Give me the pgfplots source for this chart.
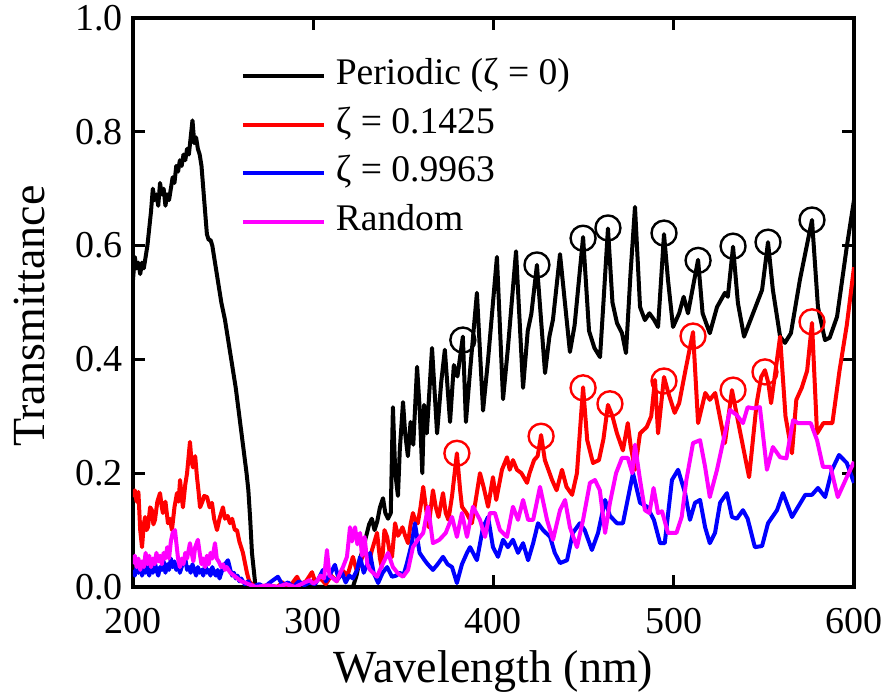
\documentclass[border=0pt]{standalone}
\usepackage{fontspec}
\setmainfont{Liberation Serif}
\usepackage{pgfplots}
\pgfplotsset{compat=1.18}
\definecolor{mag}{RGB}{255,0,255}
\definecolor{rd}{RGB}{255,0,0}
\definecolor{bl}{RGB}{0,0,255}
\begin{document}
\begin{tikzpicture}
\begin{axis}[
 name=ax,
 scale only axis, width=360.5pt, height=284.5pt,
 xmin=200, xmax=600, ymin=0, ymax=1,
 xtick={200,300,400,500,600},
 ytick={0,0.2,0.4,0.6,0.8,1.0},
 yticklabel style={xshift=-1.5pt, /pgf/number format/fixed, /pgf/number format/fixed zerofill, /pgf/number format/precision=1},
 /pgf/number format/assume math mode=true,
 tick align=inside, major tick length=6pt,
 tick style={line width=1.6pt, black},
 axis line style={line width=2pt},
 ticklabel style={font=\fontsize{19}{19}\selectfont},
 xticklabel style={yshift=-7pt},
 xlabel={Wavelength (nm)}, ylabel={Transmittance},
 label style={font=\fontsize{23}{23}\selectfont},
 xlabel style={at={(axis description cs:0.5,-0.1687)}, anchor=base},
 ylabel style={at={(axis description cs:-0.1221,0.476)}, anchor=base},
 legend style={draw=none, fill=none, at={(axis description cs:0.149,0.9359)}, anchor=north west,
   font=\fontsize{18.8}{18.8}\selectfont, inner sep=0pt, row sep=2.75pt, column sep=3pt,
   nodes={inner sep=2pt, text height=13pt, text depth=4.5pt}},
 legend cell align=left,
 legend image code/.code={\draw[#1] (0pt,0pt) -- (40.5pt,0pt);},
 every axis plot/.append style={line width=2pt, line join=round},
]
% Periodic
\addplot[black] coordinates {
(200,0.54)(201,0.58)(202,0.56)(203,0.57)(204,0.55)(205,0.57)(206,0.56)(207,0.58)(208,0.60)(209,0.63)
(210,0.66)(211,0.70)(212,0.68)(213,0.69)(214,0.67)(215,0.71)(216,0.69)(217,0.70)(218,0.67)(219,0.69)
(220,0.68)(221,0.70)(222,0.72)(223,0.71)(224,0.74)(225,0.73)(226,0.75)(227,0.74)(228,0.76)(229,0.75)
(230,0.77)(231,0.76)(232,0.79)(233,0.82)(234,0.78)(235,0.79)(236,0.77)(237,0.76)(238,0.74)(239,0.70)
(240,0.66)(241,0.62)(242,0.61)(243,0.61)(244,0.60)(245,0.58)(246,0.56)(247,0.54)(248,0.52)(249,0.50)
(251,0.47)(253,0.43)(255,0.39)(257,0.35)(259,0.30)(261,0.25)(263,0.20)(264,0.17)(265,0.12)(266,0.06)
(267,0.03)(268,0.00)(322,0.00)(324,0.02)(326,0.05)(328,0.07)(329,0.085)(331,0.11)(332.5,0.12)(334,0.10)
(335.5,0.115)(337,0.14)(338.7,0.156)(340,0.13)(341.5,0.12)(343,0.13)(344.2,0.316)(345.5,0.20)(347,0.16)
(348,0.24)(349.8,0.325)(351,0.27)(352.5,0.23)(354,0.29)(355.5,0.25)(357.6,0.387)(359,0.316)(360.5,0.20)
(361.5,0.32)(363,0.27)(365.9,0.42)(368.7,0.27)(371,0.36)(373,0.417)(375.9,0.29)(378,0.39)(380,0.37)
(383,0.44)(384.7,0.29)(387,0.38)(390.8,0.517)(394.2,0.31)(397,0.40)(401.9,0.58)(405.3,0.33)(408,0.42)
(412.5,0.59)(416.4,0.35)(419,0.45)(421,0.48)(424.1,0.566)(428.6,0.376)(431,0.44)(433,0.47)(436.9,0.585)
(442.4,0.413)(445,0.46)(449.7,0.615)(453,0.45)(456,0.42)(459.1,0.404)(461,0.50)(463.5,0.63)(466,0.50)
(468.5,0.464)(471.3,0.446)(473.5,0.411)(476,0.55)(478.5,0.668)(481.3,0.492)(484,0.469)(486.5,0.481)
(489,0.47)(491.3,0.457)(494.6,0.62)(496.8,0.54)(499.6,0.457)(503,0.481)(505.5,0.51)(507.9,0.481)
(513.5,0.575)(516,0.481)(520,0.446)(524,0.492)(528.4,0.517)(530,0.51)(532.9,0.598)(535.6,0.499)
(539,0.44)(544,0.481)(549,0.522)(552.3,0.606)(555,0.522)(559,0.44)(561.7,0.429)(565,0.446)(570,0.54)
(576.7,0.645)(580,0.492)(583.9,0.434)(586.5,0.438)(590.6,0.475)(596,0.598)(600,0.68)
};
\addlegendentry{Periodic (ζ = 0)}
% zeta = 0.1425
\addplot[rd] coordinates {
(200,0.158)(201,0.17)(202,0.15)(203,0.167)(204,0.10)(205,0.07)(206,0.11)(206.7,0.123)(207.5,0.10)
(208.3,0.105)(209.5,0.14)(210.5,0.135)(211.3,0.11)(212.2,0.118)(213.5,0.15)(215,0.165)(216,0.14)
(216.6,0.13)(218,0.15)(219.4,0.112)(220.5,0.12)(221.6,0.10)(223,0.14)(224.4,0.165)(225.3,0.15)
(226.1,0.188)(227,0.16)(227.7,0.14)(229,0.18)(230,0.20)(231.6,0.255)(232.5,0.22)(233.3,0.21)
(234.5,0.23)(235.5,0.193)(236.3,0.17)(237.2,0.14)(238.5,0.15)(239.5,0.16)(241.1,0.158)(242.5,0.14)
(243.8,0.148)(245,0.12)(246.6,0.10)(248,0.12)(249.9,0.14)(251,0.12)(252.5,0.125)(253.8,0.112)
(255,0.12)(256.5,0.10)(257.7,0.10)(259,0.08)(261,0.06)(263.2,0.025)(264.5,0.01)(266,0.005)(268,0.0)
(275,0.003)(280,0.0)(283,0.008)(285,0.0)(288,0.005)(291,0.018)(293,0.005)(296,0.01)(299.3,0.026)
(301,0.01)(304,0.015)(307,0.005)(310,0.02)(313,0.01)(316,0.03)(319,0.02)(322,0.053)(324,0.03)
(326,0.04)(328.7,0.07)(330.5,0.04)(332.6,0.065)(334,0.08)(335.4,0.095)(337,0.05)(338,0.035)
(339.5,0.10)(341,0.088)(342.5,0.06)(343.7,0.053)(345.4,0.112)(347,0.09)(348,0.095)(349.5,0.105)
(351,0.09)(352.6,0.077)(354,0.11)(355.3,0.13)(356.8,0.115)(358,0.112)(359.5,0.14)(361,0.176)
(362.5,0.14)(364,0.105)(366.4,0.17)(368,0.14)(369.5,0.123)(372,0.165)(373.5,0.13)(375,0.118)
(377,0.16)(379.7,0.235)(381.5,0.17)(382.5,0.141)(385,0.13)(388,0.112)(390,0.15)(392.5,0.20)
(394.5,0.176)(397,0.141)(399.7,0.193)(401.5,0.153)(404.7,0.206)(407.5,0.228)(409,0.206)(410.8,0.223)
(413,0.206)(415.5,0.20)(418.6,0.183)(420,0.20)(422.5,0.223)(424.5,0.23)(426.4,0.267)(428.5,0.223)
(432.5,0.188)(435,0.17)(438,0.206)(440.5,0.176)(443.6,0.162)(446.3,0.20)(449.7,0.351)(452,0.258)
(455.2,0.218)(458.5,0.223)(461,0.26)(463.5,0.32)(466,0.30)(468.5,0.27)(471.8,0.24)(474.5,0.288)
(476,0.25)(478.5,0.206)(481.3,0.27)(485,0.281)(487.5,0.30)(489.6,0.364)(491.3,0.27)(494.6,0.369)
(497,0.341)(500.5,0.306)(503,0.323)(506.5,0.381)(510.7,0.448)(513.5,0.288)(517.5,0.341)(520,0.329)
(523,0.341)(528.4,0.253)(532.3,0.346)(536.6,0.276)(541.8,0.193)(546,0.323)(548.5,0.369)(550.6,0.381)
(552.5,0.358)(554,0.323)(556.5,0.381)(559,0.44)(562,0.30)(565.6,0.235)(568,0.329)(571,0.35)(574,0.38)
(576.7,0.464)(579.5,0.27)(583,0.288)(588,0.288)(592,0.381)(596,0.46)(600,0.562)
};
\addlegendentry{ζ = 0.1425}
% zeta = 0.9963
\addplot[bl] coordinates {
(200,0.03)(201,0.02)(202,0.035)(203,0.025)(204,0.04)(205,0.02)(206,0.03)(207,0.025)(208,0.04)(209,0.02)
(210,0.035)(211,0.025)(212,0.045)(213,0.03)(214,0.02)(215,0.035)(216,0.03)(217,0.045)(218,0.025)
(219,0.04)(220,0.03)(221,0.05)(222,0.035)(223,0.045)(224,0.03)(225,0.04)(226,0.025)(227,0.035)
(228,0.045)(229,0.05)(230,0.03)(231,0.035)(232,0.025)(233,0.04)(234,0.03)(235,0.02)(236,0.035)
(237,0.025)(238,0.03)(239,0.02)(240,0.04)(241,0.025)(242,0.03)(243,0.02)(244,0.035)(245,0.025)
(246,0.02)(247,0.03)(248,0.015)(249,0.025)(250,0.035)(251,0.04)(252.7,0.047)(254,0.03)(255,0.02)
(256,0.025)(257,0.015)(258,0.02)(259,0.01)(260,0.015)(262,0.005)(264,0.01)(266,0.0)(270,0.005)
(273,0.0)(276,0.008)(280.4,0.018)(283,0.003)(286,0.008)(289,0.0)(292,0.01)(295,0.003)(298,0.008)
(301,0.005)(303,0.015)(305.4,0.03)(307,0.01)(309,0.02)(312,0.039)(314,0.015)(316,0.025)(318,0.008)
(320,0.02)(322,0.015)(324.3,0.03)(326,0.053)(328,0.025)(330,0.04)(331.5,0.06)(333.5,0.025)(336,0.007)
(338.5,0.025)(341,0.035)(343.7,0.018)(346,0.02)(348,0.025)(350,0.02)(352,0.042)(354.7,0.077)
(356.4,0.112)(359,0.06)(361.8,0.047)(363.5,0.04)(366.4,0.03)(369,0.04)(372,0.053)(374.5,0.04)
(377,0.035)(379.7,0.007)(382.5,0.04)(385.3,0.06)(387,0.07)(390.8,0.047)(394.2,0.105)(397,0.123)
(399.7,0.07)(402.5,0.053)(405.3,0.083)(408,0.07)(410.8,0.083)(413.6,0.06)(416.4,0.077)(419.2,0.047)
(422,0.077)(424.7,0.112)(427.5,0.10)(431.4,0.088)(434,0.06)(436.9,0.042)(440.8,0.047)(444,0.095)
(447.9,0.112)(450.6,0.10)(454.6,0.065)(458,0.095)(461.9,0.153)(464.6,0.125)(468.5,0.112)(471.8,0.112)
(477.4,0.20)(481.3,0.148)(485.2,0.141)(489,0.118)(492.4,0.077)(495,0.077)(499,0.188)(502.4,0.206)
(506.3,0.165)(509,0.118)(511.8,0.148)(514.6,0.153)(517.4,0.105)(520,0.077)(522.9,0.095)(525.7,0.148)
(529.5,0.165)(532.3,0.123)(535,0.12)(538.4,0.135)(541,0.12)(545,0.07)(549,0.072)(552.3,0.112)
(557.3,0.135)(560.6,0.165)(565.6,0.123)(569,0.141)(573,0.162)(576.7,0.162)(580,0.174)(584,0.158)
(587.8,0.206)(591.7,0.232)(596,0.218)(600,0.183)
};
\addlegendentry{ζ = 0.9963}
% Random
\addplot[mag] coordinates {
(200,0.04)(201,0.055)(202,0.035)(203,0.05)(204,0.03)(205,0.045)(206,0.035)(207,0.06)(208,0.04)
(209,0.055)(210,0.035)(211,0.05)(212,0.04)(213,0.06)(214,0.045)(215,0.055)(216,0.04)(217,0.06)
(218,0.05)(219,0.07)(220,0.05)(221,0.08)(222,0.095)(223.3,0.10)(224.3,0.07)(225,0.05)(226,0.035)
(227,0.05)(228,0.04)(229,0.06)(230,0.05)(231.6,0.077)(232.5,0.06)(233.5,0.045)(234.5,0.07)(236,0.083)
(237,0.06)(238,0.04)(239,0.05)(240,0.035)(241,0.055)(242,0.04)(243,0.06)(244,0.05)(245.5,0.077)
(246.5,0.05)(247.5,0.045)(249,0.035)(250,0.04)(251,0.03)(252,0.035)(254,0.025)(256,0.02)(258,0.015)
(260,0.01)(262,0.008)(264,0.005)(266,0.003)(268,0.0)(275,0.003)(280,0.0)(285,0.005)(290,0.0)
(294,0.006)(298,0.012)(300,0.006)(302,0.01)(304,0.02)(306,0.015)(307.6,0.065)(309,0.02)(311,0.015)
(313,0.01)(315,0.025)(316.5,0.035)(318.7,0.053)(320.4,0.105)(321.5,0.08)(323.2,0.105)(324.5,0.075)
(326,0.095)(327,0.055)(328.5,0.088)(330,0.04)(331.5,0.03)(335.4,0.018)(337,0.03)(341.5,0.06)
(344.2,0.035)(347,0.024)(349.8,0.018)(352.6,0.03)(355.3,0.07)(358,0.083)(361,0.095)(363.7,0.141)
(366.4,0.077)(370,0.083)(373.5,0.095)(377,0.123)(379.7,0.088)(382.5,0.13)(385.3,0.088)(388.6,0.141)
(392.5,0.118)(395.3,0.088)(398,0.13)(400.8,0.13)(403.6,0.10)(407.5,0.088)(410.8,0.141)(413.6,0.118)
(416.4,0.153)(419.2,0.118)(422,0.118)(425.8,0.176)(429.7,0.118)(433,0.083)(436.9,0.135)(439.7,0.153)
(442.4,0.105)(446.3,0.07)(449.7,0.118)(453.5,0.183)(456.3,0.188)(459,0.17)(461.9,0.095)(464.6,0.148)
(468,0.20)(471.3,0.227)(474.5,0.227)(477,0.20)(478.5,0.25)(481.3,0.188)(484,0.135)(486.5,0.13)
(488.8,0.174)(491.3,0.13)(493.5,0.133)(496.8,0.095)(501.5,0.095)(504.4,0.123)(507,0.188)(510.7,0.253)
(514.6,0.258)(517.4,0.211)(520,0.158)(524,0.206)(528.4,0.27)(531.2,0.311)(535,0.302)(538.4,0.288)
(541,0.316)(544,0.314)(547.8,0.316)(551.7,0.206)(555,0.246)(559,0.228)(562.5,0.226)(566.2,0.293)
(569,0.288)(573,0.288)(576,0.288)(579.5,0.258)(582.8,0.211)(587,0.211)(591,0.158)(596,0.193)(600,0.22)
};
\addlegendentry{Random}
% circles
\addplot[black, only marks, mark=o, mark size=6.25pt, mark options={line width=1.2pt}, forget plot] coordinates {
(383,0.434)(424.1,0.566)(449.7,0.613)(463.5,0.631)(494.6,0.622)(513.5,0.574)(532.9,0.599)(552.3,0.606)(576.7,0.645)
};
\addplot[rd, only marks, mark=o, mark size=6.25pt, mark options={line width=1.2pt}, forget plot] coordinates {
(379.7,0.235)(426.4,0.265)(449.7,0.35)(464.6,0.322)(494.6,0.362)(510.7,0.441)(532.9,0.346)(550.6,0.378)(576.7,0.466)
};
\end{axis}
\pgfresetboundingbox
\path ([xshift=-66.5pt,yshift=-56pt]ax.south west) rectangle ([xshift=17.5pt,yshift=9pt]ax.north east);
\end{tikzpicture}
\end{document}
